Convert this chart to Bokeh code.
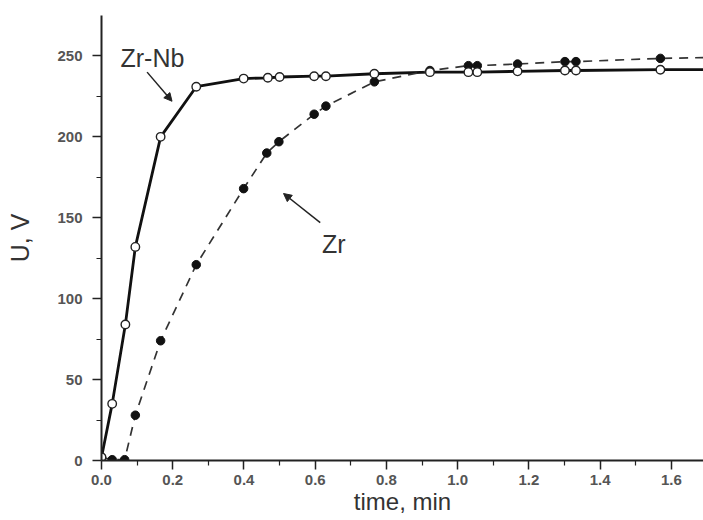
from bokeh.plotting import figure
from bokeh.models import Range1d, Label, Arrow, NormalHead, FixedTicker
from bokeh.embed import file_html
from bokeh.resources import INLINE

# Zr-Nb alloy (open circles)
zrnb_t = [0.0, 0.03, 0.067, 0.095, 0.166, 0.266, 0.399, 0.467, 0.50, 0.597, 0.63,
          0.766, 0.922, 1.03, 1.055, 1.168, 1.301, 1.332, 1.569]
zrnb_u = [2, 35, 84, 132, 200, 231, 236, 236.5, 237, 237.5, 237.5,
          239, 240, 240, 240, 240.5, 241, 241, 241.5]
# Zr (filled circles)
zr_t = [0.0, 0.03, 0.065, 0.095, 0.166, 0.266, 0.399, 0.464, 0.498, 0.597, 0.63,
        0.766, 0.922, 1.03, 1.055, 1.168, 1.301, 1.332, 1.569]
zr_u = [2, 0.5, 0.5, 28, 74, 121, 168, 190, 197, 214, 219,
        234, 241, 244, 244, 245, 246.5, 246.5, 248.5]
# curve continuation to the right edge of the plot
tail_t = 1.69
zrnb_tail_u = 241.5
zr_tail_u = 249

x_ticks = [0.0, 0.2, 0.4, 0.6, 0.8, 1.0, 1.2, 1.4, 1.6]
x_minor = [0.1, 0.3, 0.5, 0.7, 0.9, 1.1, 1.3, 1.5]
y_ticks = [0, 50, 100, 150, 200, 250]
y_minor = [25, 75, 125, 175, 225]

FONT = "Liberation Sans"

p = figure(width=703, height=520, output_backend="svg", toolbar_location=None,
           x_range=Range1d(0, 1.69), y_range=Range1d(0, 275),
           min_border_left=101, min_border_right=0, min_border_top=15, min_border_bottom=60)
p.outline_line_color = None
p.xgrid.visible = False
p.ygrid.visible = False
p.background_fill_color = "white"

for ax in (p.xaxis[0], p.yaxis[0]):
    ax.axis_line_width = 2
    ax.axis_line_color = "#222"
    ax.major_tick_line_color = "#222"
    ax.minor_tick_line_color = "#222"
    ax.major_tick_line_width = 1.5
    ax.minor_tick_line_width = 1.2
    ax.major_tick_out = 9
    ax.major_tick_in = 0
    ax.minor_tick_out = 5
    ax.minor_tick_in = 0
    ax.major_label_text_font = FONT
    ax.major_label_text_font_size = "15px"
    ax.major_label_text_font_style = "bold"
    ax.major_label_text_color = "#555"
    ax.axis_label_text_font = FONT
    ax.axis_label_text_font_style = "normal"
    ax.axis_label_text_font_size = "25px"
    ax.axis_label_text_color = "#333"

p.xaxis.ticker = FixedTicker(ticks=x_ticks, minor_ticks=x_minor)
p.yaxis.ticker = FixedTicker(ticks=y_ticks, minor_ticks=y_minor)
p.xaxis.major_label_overrides = {t: f"{t:.1f}" for t in x_ticks}
p.xaxis.major_label_standoff = 5
p.yaxis.major_label_standoff = 10
p.xaxis.axis_label = "time, min"
p.yaxis.axis_label = "U, V"
p.xaxis.axis_label_standoff = 0
p.xaxis.axis_label_text_font_size = "24px"
p.yaxis.axis_label_standoff = 20

# lines
p.line(zrnb_t + [tail_t], zrnb_u + [zrnb_tail_u], line_color="#111", line_width=2.8)
p.line(zr_t + [tail_t], zr_u + [zr_tail_u], line_color="#333", line_width=1.7,
       line_dash="9 7")
# markers
p.scatter(zr_t, zr_u, size=8.5, marker="circle", fill_color="#111", line_color="#111")
p.scatter(zrnb_t, zrnb_u, size=8.5, marker="circle", fill_color="white",
          line_color="#222", line_width=1.4)

# annotations
p.add_layout(Label(x=0.143, y=249, text="Zr-Nb", text_align="center",
                   text_baseline="middle", text_font_size="25px",
                   text_font=FONT, text_color="#333"))
p.add_layout(Label(x=0.652, y=134, text="Zr", text_align="center",
                   text_baseline="middle", text_font_size="25px",
                   text_font=FONT, text_color="#333"))
p.add_layout(Arrow(x_start=0.128, y_start=240, x_end=0.198, y_end=222,
                   line_width=1.5, line_color="#222",
                   end=NormalHead(size=8, fill_color="#222", line_color="#222")))
p.add_layout(Arrow(x_start=0.614, y_start=147, x_end=0.511, y_end=165,
                   line_width=1.5, line_color="#222",
                   end=NormalHead(size=8, fill_color="#222", line_color="#222")))

open("out.html", "w").write(file_html(p, INLINE))
